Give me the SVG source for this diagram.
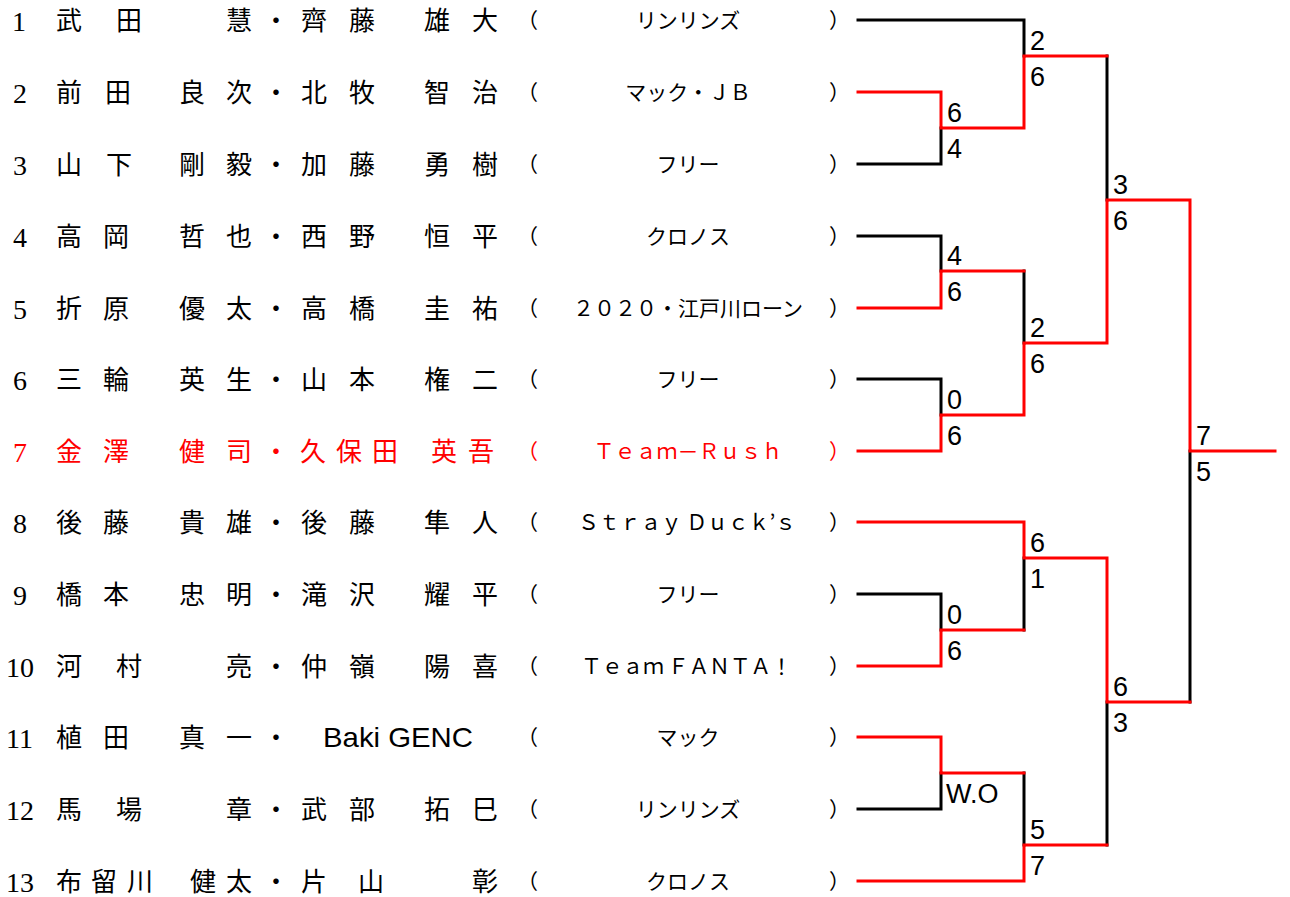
<svg xmlns="http://www.w3.org/2000/svg" width="1290" height="897" viewBox="0 0 1290 897">
<style>
.num{font-family:"Liberation Serif",serif;font-size:28px;}
.nm{font-family:"Noto Sans CJK JP",sans-serif;font-size:26px;}
.lat{font-family:"Liberation Sans",sans-serif;font-size:28px;}
.tm{font-family:"Noto Sans CJK JP",sans-serif;font-size:21px;}
.tmc{font-family:"Noto Sans CJK JP",sans-serif;font-size:21px;text-anchor:middle;}
.sc{font-family:"Liberation Sans",sans-serif;font-size:27px;fill:#000;}
.blk{fill:none;stroke:#000;stroke-width:3;stroke-linecap:square;}
.red{fill:none;stroke:#FF0000;stroke-width:3;stroke-linecap:square;}
.r{fill:#FF0000;}
</style>
<rect width="1290" height="897" fill="#fff"/>

<g id="team1">
<text class="num" x="12" y="31">1</text>
<text class="nm" x="56 116 226 263 301 349 424 472" y="30">武田慧・齊藤雄大</text>
<text class="tm" x="517" y="28">（</text><text class="tmc" x="688" y="28">リンリンズ</text><text class="tm" x="829" y="28">）</text>
</g>
<g id="team2">
<text class="num" x="13" y="103">2</text>
<text class="nm" x="56 105 179 226 263 301 349 424 472" y="102">前田良次・北牧智治</text>
<text class="tm" x="517" y="100">（</text><text class="tmc" x="688" y="100">マック・ＪＢ</text><text class="tm" x="829" y="100">）</text>
</g>
<g id="team3">
<text class="num" x="13" y="175">3</text>
<text class="nm" x="56 106 179 226 263 301 349 424 472" y="174">山下剛毅・加藤勇樹</text>
<text class="tm" x="517" y="172">（</text><text class="tmc" x="688" y="172">フリー</text><text class="tm" x="829" y="172">）</text>
</g>
<g id="team4">
<text class="num" x="13" y="247">4</text>
<text class="nm" x="56 103 179 226 263 301 349 424 472" y="246">高岡哲也・西野恒平</text>
<text class="tm" x="517" y="244">（</text><text class="tmc" x="688" y="244">クロノス</text><text class="tm" x="829" y="244">）</text>
</g>
<g id="team5">
<text class="num" x="13" y="319">5</text>
<text class="nm" x="56 103 179 226 263 301 349 424 472" y="318">折原優太・高橋圭祐</text>
<text class="tm" x="517" y="316">（</text><text class="tmc" x="688" y="316">２０２０・江戸川ローン</text><text class="tm" x="829" y="316">）</text>
</g>
<g id="team6">
<text class="num" x="13" y="390">6</text>
<text class="nm" x="56 103 179 226 263 301 349 424 472" y="389">三輪英生・山本権二</text>
<text class="tm" x="517" y="387">（</text><text class="tmc" x="688" y="387">フリー</text><text class="tm" x="829" y="387">）</text>
</g>
<g id="team7" class="r">
<text class="num r" x="13" y="462">7</text>
<text class="nm r" x="56 103 179 226 263 300 336 372 431 468" y="461">金澤健司・久保田英吾</text>
<text class="tm r" x="517" y="459">（</text><text class="tmc r" x="688" y="459">Ｔｅａｍ－Ｒｕｓｈ</text><text class="tm r" x="829" y="459">）</text>
</g>
<g id="team8">
<text class="num" x="13" y="533">8</text>
<text class="nm" x="56 103 179 226 263 301 349 424 472" y="532">後藤貴雄・後藤隼人</text>
<text class="tm" x="517" y="530">（</text><text class="tm" x="578" y="530" textLength="218" lengthAdjust="spacing">Ｓｔｒａｙ Ｄｕｃｋ’ｓ</text><text class="tm" x="829" y="530">）</text>
</g>
<g id="team9">
<text class="num" x="13" y="605">9</text>
<text class="nm" x="56 103 179 226 263 301 349 424 472" y="604">橋本忠明・滝沢耀平</text>
<text class="tm" x="517" y="602">（</text><text class="tmc" x="688" y="602">フリー</text><text class="tm" x="829" y="602">）</text>
</g>
<g id="team10">
<text class="num" x="6" y="677">10</text>
<text class="nm" x="56 116 226 263 301 349 424 472" y="676">河村亮・仲嶺陽喜</text>
<text class="tm" x="517" y="674">（</text><text class="tm" x="581" y="674" textLength="211" lengthAdjust="spacing">Ｔｅａｍ ＦＡＮＴＡ！</text><text class="tm" x="829" y="674">）</text>
</g>
<g id="team11">
<text class="num" x="6" y="748">11</text>
<text class="nm" x="56 103 179 226 263" y="747">植田真一・</text>
<text class="lat" x="323" y="747" textLength="150" lengthAdjust="spacingAndGlyphs">Baki GENC</text>
<text class="tm" x="517" y="745">（</text><text class="tmc" x="688" y="745">マック</text><text class="tm" x="829" y="745">）</text>
</g>
<g id="team12">
<text class="num" x="6" y="820">12</text>
<text class="nm" x="56 116 226 263 301 349 424 472" y="819">馬場章・武部拓巳</text>
<text class="tm" x="517" y="817">（</text><text class="tmc" x="688" y="817">リンリンズ</text><text class="tm" x="829" y="817">）</text>
</g>
<g id="team13">
<text class="num" x="6" y="892">13</text>
<text class="nm" x="56 91 127 190 226 263 301 358 472" y="891">布留川健太・片山彰</text>
<text class="tm" x="517" y="889">（</text><text class="tmc" x="688" y="889">クロノス</text><text class="tm" x="829" y="889">）</text>
</g>

<g id="connectors">
<path class="blk" d="M858,20 H1024 V56"/>
<path class="blk" d="M858,164 H941 V128"/>
<path class="blk" d="M858,236 H941 V271"/>
<path class="blk" d="M1024,271 V343"/>
<path class="blk" d="M1107,56 V200"/>
<path class="blk" d="M858,379 H941 V415"/>
<path class="blk" d="M1190,451 V702"/>
<path class="blk" d="M1024,558 V630"/>
<path class="blk" d="M858,594 H941 V630"/>
<path class="blk" d="M1107,702 V845"/>
<path class="blk" d="M858,809 H941 V773"/>
<path class="blk" d="M1024,773 V845"/>
<path class="red" d="M858,92 H941 V128 H1024 V56 H1107"/>
<path class="red" d="M858,308 H941 V271 H1024"/>
<path class="red" d="M858,451 H941 V415 H1024 V343 H1107 V200 H1190 V451 H1275"/>
<path class="red" d="M858,522 H1024 V558 H1107 V702 H1190"/>
<path class="red" d="M858,666 H941 V630 H1024"/>
<path class="red" d="M858,737 H941 V773 H1024"/>
<path class="red" d="M858,881 H1024 V845 H1107"/>
</g>

<g id="scores">
<text class="sc" x="1030" y="50">2</text><text class="sc" x="1030" y="86">6</text>
<text class="sc" x="947" y="122">6</text><text class="sc" x="947" y="158">4</text>
<text class="sc" x="947" y="265">4</text><text class="sc" x="947" y="301">6</text>
<text class="sc" x="947" y="409">0</text><text class="sc" x="947" y="445">6</text>
<text class="sc" x="1030" y="337">2</text><text class="sc" x="1030" y="373">6</text>
<text class="sc" x="1113" y="194">3</text><text class="sc" x="1113" y="230">6</text>
<text class="sc" x="1196" y="445">7</text><text class="sc" x="1196" y="481">5</text>
<text class="sc" x="947" y="624">0</text><text class="sc" x="947" y="660">6</text>
<text class="sc" x="1030" y="552">6</text><text class="sc" x="1030" y="588">1</text>
<text class="sc" x="946" y="803">W.O</text>
<text class="sc" x="1030" y="839">5</text><text class="sc" x="1030" y="875">7</text>
<text class="sc" x="1113" y="696">6</text><text class="sc" x="1113" y="732">3</text>
</g>
</svg>
